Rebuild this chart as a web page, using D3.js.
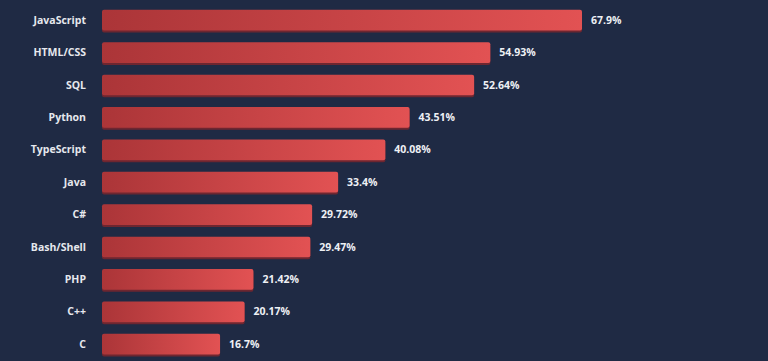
<!DOCTYPE html>
<head>
<meta charset="utf-8">
<style>
body {
  margin: 0;
  background: #1f2a44;
  font: bold 10.5px "Open Sans", "DejaVu Sans", Arial, sans-serif;
}
.name {
  fill: #e6e8ee;
  text-anchor: end;
}
.val {
  fill: #eef0f4;
}
</style>
</head>
<body>
<script src="https://cdn.jsdelivr.net/npm/d3@7"></script>
<script>
(function() {
  var
    W = 768,
    H = 361,
    margin = {top: 4, right: 100, bottom: 0, left: 102};

  // languages and share of respondents (%)
  var languages = ["JavaScript", "HTML/CSS", "SQL", "Python", "TypeScript", "Java", "C#", "Bash/Shell", "PHP", "C++", "C"];
  var shares = [67.9, 54.93, 52.64, 43.51, 40.08, 33.4, 29.72, 29.47, 21.42, 20.17, 16.7];
  var shareLabels = ["67.9%", "54.93%", "52.64%", "43.51%", "40.08%", "33.4%", "29.72%", "29.47%", "21.42%", "20.17%", "16.7%"];

  var sx = d3.scaleLinear()
    .domain([0, 67.9])
    .range([0, 480]);

  var sy = d3.scaleBand()
    .domain(languages)
    .range([margin.top, margin.top + 32.4 * languages.length])
    .paddingInner(0.36)
    .paddingOuter(0.18);

  var svg = d3.select("body")
    .append("svg")
    .attr("width", W)
    .attr("height", H);

  var defs = svg.append("defs");
  var grad = defs.append("linearGradient")
    .attr("id", "barGrad")
    .attr("x1", "0").attr("x2", "1").attr("y1", "0").attr("y2", "0");
  grad.append("stop").attr("offset", "0%").attr("stop-color", "#ab3538");
  grad.append("stop").attr("offset", "100%").attr("stop-color", "#e25253");

  var vis = svg.append("g")
    .attr("transform", "translate(" + margin.left + ",0)");

  var rows = vis.selectAll("g.row")
    .data(languages)
    .enter().append("g")
    .attr("class", "row");

  // dark bottom edge
  rows.append("rect")
    .attr("x", 0)
    .attr("y", function(d) { return sy(d) + 2; })
    .attr("width", function(d, i) { return sx(shares[i]); })
    .attr("height", sy.bandwidth())
    .attr("rx", 2)
    .attr("fill", "#6e2630");

  rows.append("rect")
    .attr("x", 0)
    .attr("y", function(d) { return sy(d); })
    .attr("width", function(d, i) { return sx(shares[i]); })
    .attr("height", sy.bandwidth())
    .attr("rx", 2)
    .attr("fill", "url(#barGrad)");

  rows.append("text")
    .attr("class", "name")
    .attr("x", -16)
    .attr("y", function(d) { return sy(d) + sy.bandwidth() / 2; })
    .attr("dy", "0.35em")
    .text(function(d) { return d; });

  rows.append("text")
    .attr("class", "val")
    .attr("x", function(d, i) { return sx(shares[i]) + 9; })
    .attr("y", function(d) { return sy(d) + sy.bandwidth() / 2; })
    .attr("dy", "0.35em")
    .text(function(d, i) { return shareLabels[i]; });
})();
</script>
</body>
